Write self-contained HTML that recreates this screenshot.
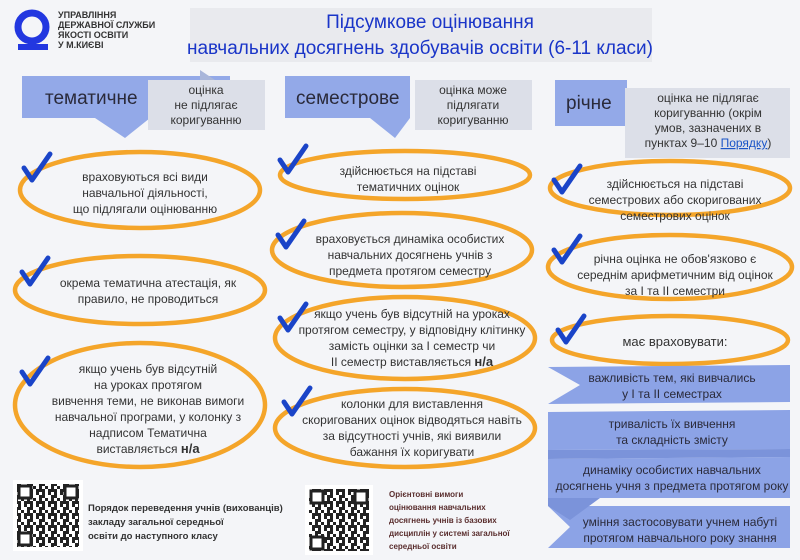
<!DOCTYPE html>
<html><head><meta charset="utf-8"><style>
html,body{margin:0;padding:0;background:#f4f5f8;}
svg{display:block;font-family:"Liberation Sans",sans-serif;}
</style></head><body>
<svg width="800" height="560" viewBox="0 0 800 560" xmlns="http://www.w3.org/2000/svg">
<defs>
<pattern id="qr" width="12" height="12" patternUnits="userSpaceOnUse">
<rect width="12" height="12" fill="#fff"/>
<rect x="0" y="0" width="3" height="3" fill="#222"/><rect x="6" y="0" width="3" height="6" fill="#222"/>
<rect x="3" y="3" width="3" height="3" fill="#222"/><rect x="9" y="6" width="3" height="3" fill="#222"/>
<rect x="0" y="9" width="6" height="3" fill="#222"/><rect x="6" y="9" width="3" height="3" fill="#222"/>
<rect x="3" y="6" width="3" height="3" fill="#222"/>
</pattern>
</defs>
<rect width="800" height="560" fill="#f4f5f8"/>
<!-- logo -->
<circle cx="32" cy="27" r="14" fill="none" stroke="#2237e0" stroke-width="7"/>
<rect x="18" y="44" width="30" height="6" fill="#2237e0"/>
<g font-size="9" font-weight="bold" fill="#333">
<text x="58" y="18">УПРАВЛІННЯ</text><text x="58" y="28">ДЕРЖАВНОЇ СЛУЖБИ</text>
<text x="58" y="38">ЯКОСТІ ОСВІТИ</text><text x="58" y="48">У М.КИЄВІ</text></g>
<!-- title -->
<rect x="190" y="8" width="462" height="54" fill="#e9eaee"/>
<g fill="#1a35c8" font-size="19" text-anchor="middle">
<text x="430" y="28">Підсумкове оцінювання</text>
<text x="420" y="54">навчальних досягнень здобувачів освіти (6-11 класи)</text></g>
<!-- headers -->
<rect x="22" y="76" width="208" height="42" fill="#93a9e8"/>
<polygon points="95,118 150,118 125,138" fill="#93a9e8"/>
<text x="45" y="104" font-size="19" fill="#2a2a3a">тематичне</text>
<polygon points="200,70 200,80 215,80" fill="#a9b6da"/>
<rect x="148" y="80" width="117" height="50" fill="#dcdfe8"/>
<g font-size="12" fill="#333" text-anchor="middle"><text x="206" y="94">оцінка</text><text x="206" y="109">не підлягає</text><text x="206" y="124">коригуванню</text></g>
<rect x="285" y="76" width="125" height="42" fill="#93a9e8"/>
<polygon points="370,118 410,118 395,138" fill="#93a9e8"/>
<text x="296" y="104" font-size="19" fill="#2a2a3a">семестрове</text>
<rect x="415" y="80" width="117" height="50" fill="#dcdfe8"/>
<g font-size="12" fill="#333" text-anchor="middle"><text x="473" y="94">оцінка може</text><text x="473" y="109">підлягати</text><text x="473" y="124">коригуванню</text></g>
<rect x="555" y="80" width="72" height="46" fill="#93a9e8"/>
<polygon points="640,126 690,126 660,142" fill="#93a9e8"/>
<text x="566" y="109" font-size="19" fill="#2a2a3a">річне</text>
<rect x="625" y="88" width="165" height="70" fill="#dcdfe8"/>
<g font-size="12" fill="#333" text-anchor="middle"><text x="708" y="102">оцінка не підлягає</text><text x="708" y="117">коригуванню (окрім</text><text x="708" y="132">умов, зазначених в</text><text x="708" y="147">пунктах 9–10 <tspan fill="#1a55c8" text-decoration="underline">Порядку</tspan>)</text></g>
<!-- ellipses -->
<g fill="none" stroke="#f4a52a" stroke-width="4.5">
<ellipse cx="140" cy="190" rx="120" ry="38"/>
<ellipse cx="140" cy="290" rx="125" ry="34"/>
<ellipse cx="140" cy="405" rx="125" ry="62"/>
<ellipse cx="405" cy="175" rx="125" ry="24"/>
<ellipse cx="402" cy="250" rx="130" ry="37"/>
<ellipse cx="405" cy="338" rx="130" ry="41"/>
<ellipse cx="405" cy="428" rx="130" ry="39"/>
<ellipse cx="670" cy="188" rx="120" ry="27"/>
<ellipse cx="670" cy="267" rx="122" ry="32"/>
<ellipse cx="670" cy="340" rx="118" ry="24"/>
</g>
<!-- checkmarks -->
<g fill="none" stroke="#1a44c8" stroke-width="5" stroke-linecap="round" stroke-linejoin="round">
<path d="M24 168 L32 180 L50 154"/><path d="M22 272 L30 284 L48 258"/><path d="M22 372 L30 384 L48 358"/>
<path d="M280 160 L288 172 L306 146"/><path d="M278 235 L286 247 L304 221"/><path d="M280 318 L288 330 L306 304"/><path d="M284 402 L292 414 L310 388"/>
<path d="M554 180 L562 192 L580 166"/><path d="M554 250 L562 262 L580 236"/><path d="M558 330 L566 342 L584 316"/>
</g>
<g font-size="12" fill="#333" text-anchor="middle">
<text x="145" y="181">враховуються всі види</text><text x="145" y="197">навчальної діяльності,</text><text x="145" y="213">що підлягали оцінюванню</text>
<text x="148" y="287">окрема тематична атестація, як</text><text x="148" y="303">правило, не проводиться</text>
<text x="148" y="373">якщо учень був відсутній</text><text x="148" y="389">на уроках протягом</text><text x="148" y="405">вивчення теми, не виконав вимоги</text><text x="148" y="421">навчальної програми, у колонку з</text><text x="148" y="437">надписом Тематична</text><text x="148" y="453">виставляється <tspan font-weight="bold" font-size="13">н/а</tspan></text>
<text x="408" y="175">здійснюється на підставі</text><text x="408" y="191">тематичних оцінок</text>
<text x="410" y="243">враховується динаміка особистих</text><text x="410" y="259">навчальних досягнень учнів з</text><text x="410" y="275">предмета протягом семестру</text>
<text x="412" y="318">якщо учень був відсутній на уроках</text><text x="412" y="334">протягом семестру, у відповідну клітинку</text><text x="412" y="350">замість оцінки за І семестр чи</text><text x="412" y="366">ІІ семестр виставляється <tspan font-weight="bold" font-size="13">н/а</tspan></text>
<text x="412" y="408">колонки для виставлення</text><text x="412" y="424">скоригованих оцінок відводяться навіть</text><text x="412" y="440">за відсутності учнів, які виявили</text><text x="412" y="456">бажання їх коригувати</text>
<text x="675" y="188">здійснюється на підставі</text><text x="675" y="204">семестрових або скоригованих</text><text x="675" y="220">семестрових оцінок</text>
<text x="675" y="263">річна оцінка не обов'язково є</text><text x="675" y="279">середнім арифметичним від оцінок</text><text x="675" y="295">за І та ІІ семестри</text>
<text x="675" y="346" font-size="13">має враховувати:</text>
</g>
<!-- blue stripes -->
<g fill="#8ca3e6">
<polygon points="548,367 790,365 790,402 548,404 580,385"/>
<polygon points="548,412 790,410 790,449 548,450"/>
<polygon points="548,459 790,457 790,498 548,498"/>
<polygon points="548,506 790,506 790,548 548,548 570,527"/>
</g>
<g fill="#7b93da"><polygon points="548,450 790,449 790,457 548,459"/><polygon points="548,498 600,498 570,520 548,506"/></g>
<g font-size="12" fill="#2a2a3a" text-anchor="middle">
<text x="672" y="382">важливість тем, які вивчались</text><text x="672" y="398">у І та ІІ семестрах</text>
<text x="672" y="428">тривалість їх вивчення</text><text x="672" y="444">та складність змісту</text>
<text x="672" y="474">динаміку особистих навчальних</text><text x="672" y="490">досягнень учня з предмета протягом року</text>
<text x="680" y="526">уміння застосовувати учнем набуті</text><text x="680" y="542">протягом навчального року знання</text>
</g>
<!-- QR codes -->
<rect x="13" y="480" width="70" height="71" fill="#fff"/>
<rect x="17" y="484" width="62" height="63" fill="url(#qr)"/>
<g fill="#fff" stroke="#222" stroke-width="3"><rect x="19" y="486" width="12" height="12"/><rect x="65" y="486" width="12" height="12"/><rect x="19" y="533" width="12" height="12"/></g>
<rect x="305" y="485" width="68" height="70" fill="#fff"/>
<rect x="309" y="489" width="60" height="62" fill="url(#qr)"/>
<g fill="#fff" stroke="#222" stroke-width="3"><rect x="311" y="491" width="12" height="12"/><rect x="355" y="491" width="12" height="12"/><rect x="311" y="537" width="12" height="12"/></g>
<g font-size="9.5" font-weight="bold" fill="#333"><text x="88" y="511">Порядок переведення учнів (вихованців)</text><text x="88" y="525">закладу загальної середньої</text><text x="88" y="539">освіти до наступного класу</text></g>
<g font-size="8" font-weight="bold" fill="#5a2e2e"><text x="389" y="497">Орієнтовні вимоги</text><text x="389" y="510">оцінювання навчальних</text><text x="389" y="523">досягнень учнів із базових</text><text x="389" y="536">дисциплін у системі загальної</text><text x="389" y="549">середньої освіти</text></g>
</svg>
</body></html>
